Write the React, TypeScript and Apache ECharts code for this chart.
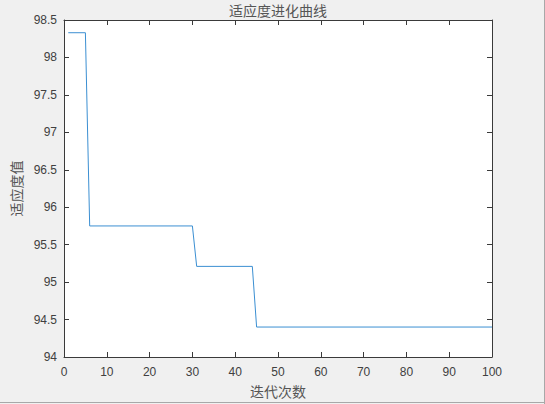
import React, { useEffect, useRef } from "react";
import * as echarts from "echarts";

// Step points of the fitness curve (iteration, fitness)
const iterations = [1, 5, 6, 30, 31, 44, 45, 100];
const fitness = [98.33, 98.33, 95.75, 95.75, 95.21, 95.21, 94.4, 94.4];

const xTicks = [0, 10, 20, 30, 40, 50, 60, 70, 80, 90, 100];
const yTicks = [94, 94.5, 95, 95.5, 96, 96.5, 97, 97.5, 98, 98.5];

const titleText = "适应度进化曲线";
const xName = "迭代次数";
const yName = "适应度值";

const AXIS_COLOR = "#3a3a3a";
const TEXT_COLOR = "#404040";
const CJK_COLOR = "#555555";
const NUM_FONT = "'Liberation Sans', Arial, sans-serif";
const CJK_FONT = "'Noto Sans CJK SC', sans-serif";

export default function App() {
  const ref = useRef<HTMLDivElement>(null);
  useEffect(() => {
    if (!ref.current) return;
    const chart = echarts.init(ref.current, undefined, { renderer: "svg" });
    const data = iterations.map((x, i) => [x, fitness[i]]);
    const tickCommon = { show: true, inside: true, length: 5, lineStyle: { color: AXIS_COLOR, width: 1 } };
    const lineCommon = { show: true, onZero: false, lineStyle: { color: AXIS_COLOR, width: 1 } };
    chart.setOption({
      animation: false,
      backgroundColor: "#f0f0f0",
      grid: {
        left: 64,
        top: 20,
        right: 53,
        bottom: 47,
        show: true,
        backgroundColor: "#ffffff",
        borderWidth: 0,
      },
      graphic: [
        {
          type: "text",
          x: 278,
          y: 10,
          style: {
            text: titleText,
            font: `14px ${CJK_FONT}`,
            fill: CJK_COLOR,
            align: "center",
            verticalAlign: "middle",
          },
        },
        { type: "line", shape: { x1: 544.5, y1: 0, x2: 544.5, y2: 404 }, style: { stroke: "#a8a8a8", lineWidth: 1 } },
        { type: "line", shape: { x1: 0, y1: 402.5, x2: 545, y2: 402.5 }, style: { stroke: "#a8a8a8", lineWidth: 1 } },
      ],
      xAxis: [
        {
          type: "value",
          position: "bottom",
          min: xTicks[0],
          max: xTicks[xTicks.length - 1],
          interval: 10,
          name: xName,
          nameLocation: "middle",
          nameGap: 27,
          nameTextStyle: { fontFamily: CJK_FONT, fontSize: 14, color: CJK_COLOR },
          axisLine: lineCommon,
          axisTick: tickCommon,
          splitLine: { show: false },
          axisLabel: { margin: 9, fontFamily: NUM_FONT, fontSize: 12, color: TEXT_COLOR },
        },
        {
          type: "value",
          position: "top",
          min: xTicks[0],
          max: xTicks[xTicks.length - 1],
          interval: 10,
          axisLine: lineCommon,
          axisTick: tickCommon,
          splitLine: { show: false },
          axisLabel: { show: false },
        },
      ],
      yAxis: [
        {
          type: "value",
          position: "left",
          min: yTicks[0],
          max: yTicks[yTicks.length - 1],
          interval: 0.5,
          name: yName,
          nameLocation: "middle",
          nameGap: 36,
          nameTextStyle: { fontFamily: CJK_FONT, fontSize: 14, color: CJK_COLOR },
          axisLine: lineCommon,
          axisTick: tickCommon,
          splitLine: { show: false },
          axisLabel: { margin: 7, fontFamily: NUM_FONT, fontSize: 12, color: TEXT_COLOR },
        },
        {
          type: "value",
          position: "right",
          min: yTicks[0],
          max: yTicks[yTicks.length - 1],
          interval: 0.5,
          axisLine: lineCommon,
          axisTick: tickCommon,
          splitLine: { show: false },
          axisLabel: { show: false },
        },
      ],
      series: [
        {
          type: "line",
          xAxisIndex: 0,
          yAxisIndex: 0,
          data,
          symbol: "none",
          lineStyle: { color: "#3b8fd2", width: 1 },
        },
      ],
    });
    return () => chart.dispose();
  }, []);
  return (
    <div
      ref={ref}
      style={{ position: "absolute", left: 0, top: 0, width: 545, height: 404 }}
    />
  );
}
